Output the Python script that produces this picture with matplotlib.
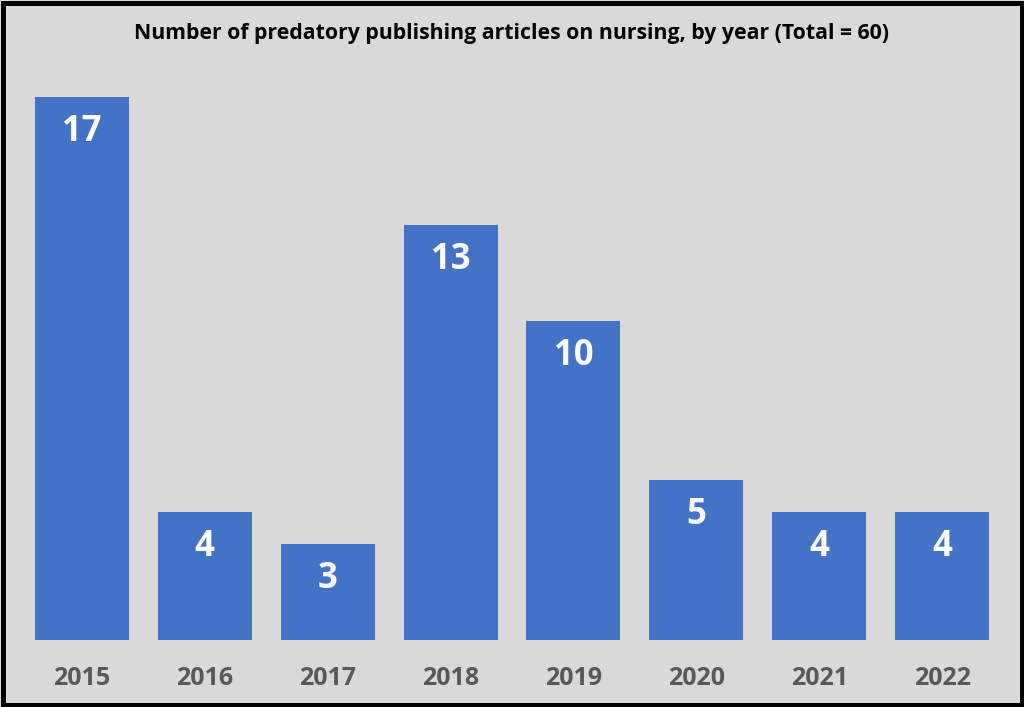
import matplotlib
matplotlib.use("Agg")
import matplotlib.pyplot as plt
from matplotlib.patches import Rectangle

years = ["2015", "2016", "2017", "2018", "2019", "2020", "2021", "2022"]
counts = [17, 4, 3, 13, 10, 5, 4, 4]
title = "Number of predatory publishing articles on nursing, by year (Total = 60)"

plt.rcParams["font.family"] = ["Open Sans", "DejaVu Sans"]
bg = "#d9d9d9"

fig = plt.figure(figsize=(10.24, 7.07), dpi=100, facecolor=bg)
ax = fig.add_axes([0.02, 0.0948, 0.96, 0.8133], facecolor=bg)

x = range(len(years))
bars = ax.bar(x, counts, width=0.765, color="#4472c4")
for xi, v in zip(x, counts):
    ax.annotate(str(v), (xi, v), xytext=(0, -35), textcoords="offset pixels",
                ha="center", va="center", color="white", fontsize=25, fontweight="bold")

ax.set_xlim(-0.5, len(years) - 0.5)
ax.set_ylim(0, 18)
ax.set_xticks(list(x))
ax.set_xticklabels(years, fontsize=18, fontweight="bold", color="#595959")
ax.tick_params(axis="x", length=0, pad=19)
ax.set_yticks([])
for s in ax.spines.values():
    s.set_visible(False)

fig.text(0.5, 0.953, title, ha="center", va="center", fontsize=15.3, fontweight="bold", color="black")

# black frame around the whole picture (about 5 px)
fx, fy = 2.5 / 1024, 2.5 / 707
fig.patches.append(Rectangle((fx, fy), 1 - 2 * fx, 1 - 2 * fy, transform=fig.transFigure,
                             fill=False, edgecolor="black", linewidth=3.6))

fig.savefig("out.png", dpi=100, facecolor=bg)
